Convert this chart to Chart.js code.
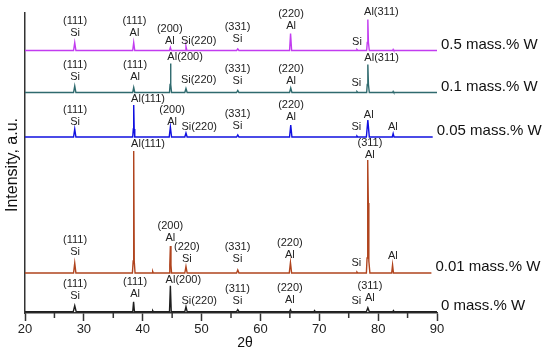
<!DOCTYPE html>
<html>
<head>
<meta charset="utf-8">
<script src="https://cdn.jsdelivr.net/npm/chart.js@4"></script>
<style>
  body { margin: 0; background: #fff; }
  canvas { display: block; }
</style>
</head>
<body>
<canvas id="xrdChart" width="550" height="354"></canvas>
<script>
// sample names, bottom to top, and the vertical offset each trace is stacked at
const samples = ["0 mass.% W", "0.01 mass.% W", "0.05 mass.% W", "0.1 mass.% W", "0.5 mass.% W"];
const offsets = [1.3, 40, 176, 220.5, 262.5];
const colors = ["#1e1e1e", "#b0441e", "#1010e0", "#2f6a6e", "#c23cf0"];

// [2theta, intensity above the trace baseline]
const w0 = [[20,0],[28.2,0],[28.45,6],[28.7,0],[38.3,0],[38.45,10],[38.6,0],[41.6,0],[41.7,1],[41.8,0],
  [44.55,0],[44.7,26],[44.85,0],[47.15,0],[47.35,5],[47.55,0],[55.95,0],[56.15,2],[56.35,0],
  [64.95,0],[65.1,2],[65.25,0],[69.1,0],[69.2,1],[69.3,0],[78.0,0],[78.25,4],[78.5,0],
  [82.5,0],[82.6,1],[82.7,0],[90,0]];
const w001 = [[20,0],[28.25,0],[28.45,10],[28.65,0],[38.25,0],[38.38,12],[38.47,122],[38.56,12],[38.7,0],
  [41.6,0],[41.7,1.5],[41.8,0],[44.5,0],[44.6,8],[44.7,27],[44.8,8],[44.9,0],[47.15,0],[47.35,6.5],[47.55,0],
  [55.95,0],[56.15,3],[56.35,0],[64.9,0],[65.1,10.5],[65.3,0],[76.25,0],[76.4,1],[76.55,0],
  [78.0,0],[78.12,15],[78.23,113],[78.33,70],[78.42,12],[78.6,0],[82.3,0],[82.45,8],[82.6,0],[89.05,0]];
const w005 = [[20,0],[28.25,0],[28.45,8],[28.65,0],[38.3,0],[38.4,8],[38.47,32],[38.55,8],[38.65,0],
  [44.5,0],[44.7,10],[44.9,0],[47.15,0],[47.35,4],[47.55,0],[55.95,0],[56.15,2],[56.35,0],
  [64.95,0],[65.15,12],[65.35,0],[76.25,0],[76.4,1],[76.55,0],[78.0,0],[78.25,17],[78.5,0],
  [82.4,0],[82.55,3.5],[82.7,0],[89.27,0]];
const w01 = [[20,0],[28.25,0],[28.45,6.5],[28.65,0],[38.3,0],[38.47,5],[38.65,0],[44.55,0],[44.65,8],[44.72,29],
  [44.8,8],[44.9,0],[47.15,0],[47.35,4],[47.55,0],[55.95,0],[56.15,2],[56.35,0],[64.95,0],[65.15,4.5],[65.35,0],
  [76.25,0],[76.4,1],[76.55,0],[78.05,0],[78.15,8],[78.25,28],[78.35,8],[78.5,0],[82.45,0],[82.55,1],[82.65,0],[90,0]];
const w05 = [[20,0],[28.25,0],[28.45,8],[28.65,0],[38.3,0],[38.47,8],[38.65,0],[44.55,0],[44.7,3],[44.85,0],
  [47.2,0],[47.35,4],[47.5,0],[55.95,0],[56.15,1.5],[56.35,0],[64.95,0],[65.12,17],[65.3,0],
  [76.25,0],[76.4,1],[76.55,0],[78.05,0],[78.15,8],[78.25,31],[78.35,8],[78.5,0],[82.45,0],[82.55,1],[82.65,0],[90,0]];
const patterns = [w0, w001, w005, w01, w05];

// peak labels: [text, 2theta, intensity of the lowest text line]
const peakLabels = [
  ["(111)\nSi", 28.5, 280], ["(111)\nAl", 38.6, 280], ["(200)\nAl", 44.6, 272], ["Si(220)", 49.5, 272],
  ["(331)\nSi", 56.1, 273.7], ["(220)\nAl", 65.2, 287], ["Si", 76.4, 271], ["Al(311)", 80.55, 301],

  ["(111)\nSi", 28.5, 236.3], ["(111)\nAl", 38.7, 235.7], ["Al(200)", 47.2, 256.3], ["Si(220)", 49.5, 233],
  ["(331)\nSi", 56.1, 232.3], ["(220)\nAl", 65.2, 232], ["Si", 76.3, 229.7], ["Al(311)", 80.6, 254.7],

  ["(111)\nSi", 28.5, 191], ["Al(111)", 40.9, 213.7], ["(200)\nAl", 45.0, 191.3], ["Si(220)", 49.6, 186.3],
  ["(331)\nSi", 56.1, 187], ["(220)\nAl", 65.2, 196.3], ["Si", 76.3, 186.3], ["Al", 78.4, 198], ["Al", 82.5, 186.3],

  ["Al(111)", 40.9, 168.7], ["(111)\nSi", 28.5, 61.3], ["(200)\nAl", 44.7, 74.7], ["(220)\nSi", 47.5, 53.7],
  ["(331)\nSi", 56.1, 53.7], ["(220)\nAl", 65.0, 58], ["Si", 76.3, 50.3], ["(311)\nAl", 78.6, 158], ["Al", 82.5, 57],

  ["(111)\nSi", 28.5, 17], ["(111)\nAl", 38.7, 19], ["Al(200)", 46.9, 33], ["Si(220)", 49.6, 12.3],
  ["(311)\nSi", 56.1, 12], ["(220)\nAl", 65.0, 13], ["Si", 76.3, 12.3], ["(311)\nAl", 78.6, 14.7]
];

const minorTicks = [25, 35, 45, 55, 65, 75, 85];
const fontFamily = "'Liberation Sans', Arial, sans-serif";

const datasets = patterns.map(function (pts, i) {
  return {
    label: samples[i],
    data: pts.map(function (p) { return { x: p[0], y: p[1] + offsets[i] }; }),
    borderColor: colors[i],
    borderWidth: 1.4,
    pointRadius: 0,
    tension: 0,
    fill: false
  };
});

const textPlugin = {
  id: "xrdText",
  afterDatasetsDraw(chart) {
    const ctx = chart.ctx;
    const xs = chart.scales.x;
    const ys = chart.scales.y;
    const area = chart.chartArea;
    ctx.save();

    // minor ticks on the 2theta axis
    ctx.strokeStyle = "#333";
    ctx.lineWidth = 1.5;
    minorTicks.forEach(function (v) {
      const px = xs.getPixelForValue(v);
      ctx.beginPath();
      ctx.moveTo(px, area.bottom);
      ctx.lineTo(px, area.bottom + 5);
      ctx.stroke();
    });

    // peak labels
    ctx.fillStyle = "#222";
    ctx.font = "11px " + fontFamily;
    ctx.textAlign = "center";
    ctx.textBaseline = "middle";
    peakLabels.forEach(function (l) {
      const lines = l[0].split("\n");
      const px = xs.getPixelForValue(l[1]);
      const py = ys.getPixelForValue(l[2]);
      lines.forEach(function (t, k) {
        ctx.fillText(t, px, py - (lines.length - 1 - k) * 12);
      });
    });

    // sample names at the end of each trace
    ctx.fillStyle = "#111";
    ctx.font = "15px " + fontFamily;
    ctx.textAlign = "left";
    patterns.forEach(function (pts, i) {
      const last = pts[pts.length - 1];
      const px = xs.getPixelForValue(last[0]) + 4;
      const py = ys.getPixelForValue(offsets[i]) - 6;
      ctx.fillText(samples[i], px, py);
    });

    // axis titles
    ctx.font = "14px " + fontFamily;
    ctx.textAlign = "center";
    ctx.fillText("2\u03b8", (area.left + area.right) / 2 + 14, area.bottom + 30);

    ctx.font = "16px " + fontFamily;
    ctx.translate(13, (area.top + area.bottom) / 2 + 2);
    ctx.rotate(-Math.PI / 2);
    ctx.fillText("Intensity, a.u.", 0, 0);
    ctx.restore();
  }
};

const config = {
  type: "line",
  data: { datasets },
  options: {
    responsive: false,
    animation: false,
    layout: { padding: { top: 13, right: 113, left: 0, bottom: 0 } },
    plugins: { legend: { display: false }, tooltip: { enabled: false } },
    scales: {
      x: {
        type: "linear",
        min: 20,
        max: 90,
        border: { display: true, color: "#333", width: 1.5 },
        grid: { drawOnChartArea: false, drawTicks: true, tickLength: 8, tickColor: "#333", tickWidth: 1.5 },
        ticks: { stepSize: 10, padding: 1, color: "#222", font: { size: 13, family: fontFamily } },
        afterFit(scale) { scale.height = 41; }
      },
      y: {
        min: 0,
        max: 300,
        border: { display: true, color: "#333", width: 1.5 },
        grid: { display: false },
        ticks: { display: false },
        afterFit(scale) { scale.width = 25; }
      }
    }
  },
  plugins: [textPlugin]
};

new Chart(document.getElementById("xrdChart"), config);
</script>
</body>
</html>
